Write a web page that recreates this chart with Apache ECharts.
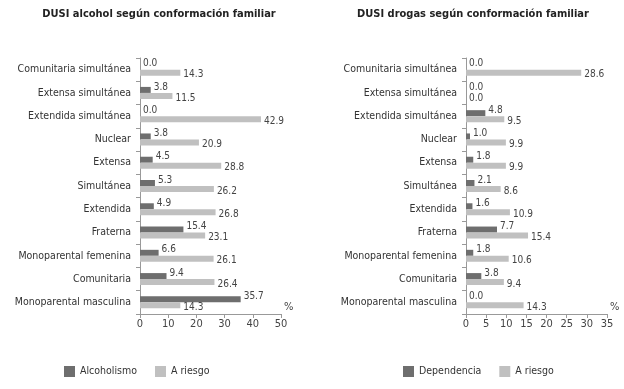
<!DOCTYPE html>
<html>
<head>
<meta charset="utf-8">
<script src="https://cdn.jsdelivr.net/npm/echarts@6/dist/echarts.min.js"></script>
<style>
  html, body { margin: 0; padding: 0; background: #fff; }
  #chart { width: 624px; height: 389px; }
</style>
</head>
<body>
<div id="chart"></div>
<script>
const categories = [
  'Comunitaria simultánea', 'Extensa simultánea', 'Extendida simultánea', 'Nuclear',
  'Extensa', 'Simultánea', 'Extendida', 'Fraterna', 'Monoparental femenina',
  'Comunitaria', 'Monoparental masculina'
]
const alcoholismo = [0.0, 3.8, 0.0, 3.8, 4.5, 5.3, 4.9, 15.4, 6.6, 9.4, 35.7]
const alcoholRiesgo = [14.3, 11.5, 42.9, 20.9, 28.8, 26.2, 26.8, 23.1, 26.1, 26.4, 14.3]
const dependencia = [0.0, 0.0, 4.8, 1.0, 1.8, 2.1, 1.6, 7.7, 1.8, 3.8, 0.0]
const drogasRiesgo = [28.6, 0.0, 9.5, 9.9, 9.9, 8.6, 10.9, 15.4, 10.6, 9.4, 14.3]

const FONT = "'Liberation Sans Narrow', 'DejaVu Sans Condensed', 'Liberation Sans', sans-serif"
const dark = '#6e6e6e'
const light = '#c0c0c0'

const chart = echarts.init(document.getElementById('chart'))

const xAxisBase = (gridIndex, max, interval) => ({
  type: 'value',
  gridIndex,
  min: 0,
  max,
  interval,
  name: '%',
  nameLocation: 'end',
  nameGap: 3,
  nameTextStyle: { color: '#444', fontSize: 11, fontFamily: FONT, verticalAlign: 'bottom', padding: [0, 0, 1, 0] },
  axisLine: { show: true, lineStyle: { color: '#999' } },
  axisTick: { show: true, length: 4, lineStyle: { color: '#999' } },
  axisLabel: { color: '#444', fontSize: 11, fontFamily: FONT, margin: 5 },
  splitLine: { show: false },
})

const yAxisBase = (gridIndex) => ({
  type: 'category',
  gridIndex,
  inverse: true,
  data: categories,
  axisLine: { show: true, lineStyle: { color: '#999' } },
  axisTick: { show: true, length: 4, lineStyle: { color: '#999' } },
  axisLabel: { color: '#333', fontSize: 10.5, fontFamily: FONT, margin: 9 },
})

const barSeries = (name, data, color, idx, up) => ({
  name,
  type: 'bar',
  xAxisIndex: idx,
  yAxisIndex: idx,
  data,
  barWidth: 6,
  barGap: '0%',
  itemStyle: { color },
  label: {
    show: true,
    position: 'right',
    distance: 3,
    offset: [0, up ? -3 : 2],
    color: '#444',
    fontSize: 10,
    fontFamily: FONT,
    formatter: (p) => p.value.toFixed(1),
  },
})

const legendBase = (data, left) => ({
  data, left, top: 366, padding: 0,
  itemWidth: 11, itemHeight: 11, itemGap: 18, icon: 'rect',
  textStyle: { color: '#333', fontSize: 10.5, fontFamily: FONT },
})

chart.setOption({
  animation: false,
  title: [
    { text: 'DUSI alcohol según conformación familiar', left: 154, top: 4, textAlign: 'center',
      textStyle: { fontSize: 11, fontWeight: 'bold', color: '#222', fontFamily: FONT } },
    { text: 'DUSI drogas según conformación familiar', left: 468, top: 4, textAlign: 'center',
      textStyle: { fontSize: 11, fontWeight: 'bold', color: '#222', fontFamily: FONT } },
  ],
  legend: [
    legendBase(['Alcoholismo', 'A riesgo'], 64),
    legendBase(['Dependencia', 'A riesgo'], 403),
  ],
  grid: [
    { left: 140, right: 343, top: 58, bottom: 75 },
    { left: 466, right: 17, top: 58, bottom: 75 },
  ],
  xAxis: [xAxisBase(0, 50, 10), xAxisBase(1, 35, 5)],
  yAxis: [yAxisBase(0), yAxisBase(1)],
  series: [
    barSeries('Alcoholismo', alcoholismo, dark, 0, true),
    barSeries('A riesgo', alcoholRiesgo, light, 0, false),
    barSeries('Dependencia', dependencia, dark, 1, true),
    barSeries('A riesgo', drogasRiesgo, light, 1, false),
  ],
})
</script>
</body>
</html>
